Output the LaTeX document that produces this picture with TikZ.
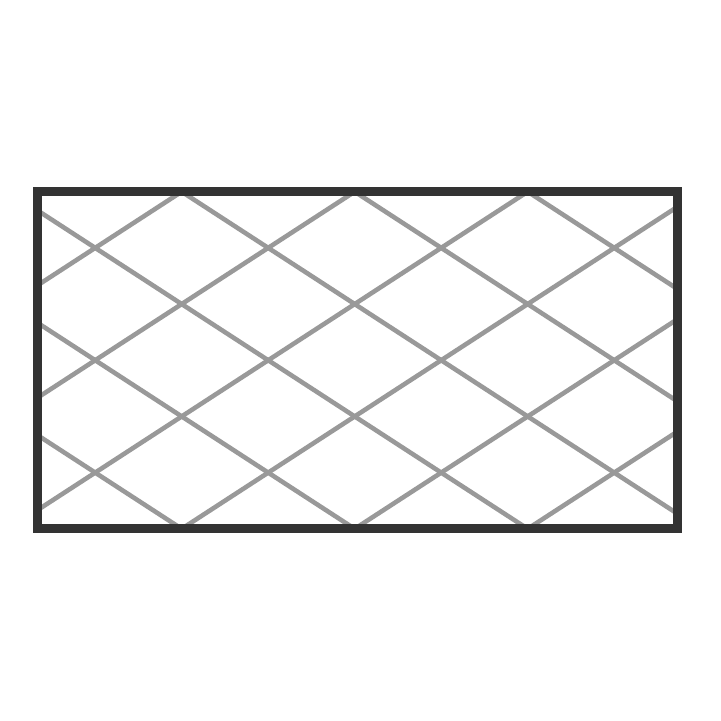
\documentclass[tikz,border=0pt]{standalone}
\usepackage{tikz}
\def\framerect{(37.7, 191.7) rectangle (677.8, 528.8)}
\colorlet{frame edge}{black!80}
\colorlet{lattice line}{black!40}
\tikzset{
  frame/.style={draw=frame edge, line width=2.45pt},
  lattice/.style={draw=lattice line, line width=1.3pt}
}

\begin{document}
\begin{tikzpicture}[x=0.01cm, y=-0.01cm]
    \useasboundingbox (0, 0) rectangle (720, 721);
    \begin{scope}
      \clip \framerect;
      \foreach \p in {-4,...,5} {
        \draw[lattice] ({181.7+173*\p}, 191.7) -- ({700.7+173*\p}, 528.8);
        \draw[lattice] ({181.7+173*\p}, 191.7) -- ({-337.3+173*\p}, 528.8);
      }
    \end{scope}
    \draw[frame] \framerect;
  \end{tikzpicture}
\end{document}
